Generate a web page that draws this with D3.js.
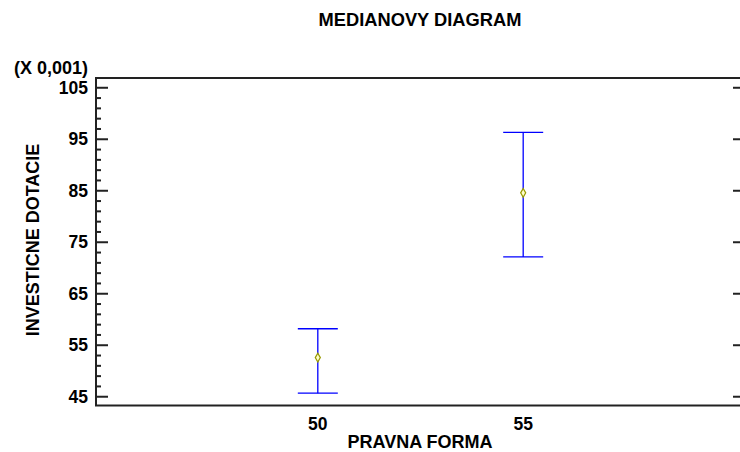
<!DOCTYPE html>
<html>
<head>
<meta charset="utf-8">
<script src="https://cdn.jsdelivr.net/npm/d3@7"></script>
<style>
  html, body { margin: 0; padding: 0; background: #fff; }
  svg { display: block; font-family: "Liberation Sans", Arial, sans-serif; font-weight: bold; }
</style>
</head>
<body>
<svg id="chart" width="740" height="452"></svg>
<script>
// Median plot: median with lower/upper interval per legal form
const categories = [50, 55];
const medians = [52.5, 84.5];
const lowerBounds = [45.6, 72.05];
const upperBounds = [58.1, 96.25];
const yMajorTicks = [45, 55, 65, 75, 85, 95, 105];
const yMinorTicks = [47, 49, 51, 53, 57, 59, 61, 63, 67, 69, 71, 73, 77, 79, 81, 83, 87, 89, 91, 93, 97, 99, 101, 103];

const svg = d3.select("#chart");
const plot = { left: 96, right: 745, top: 78, bottom: 405.5 };

const x = d3.scaleLinear().domain([44.6, 60.4]).range([plot.left, plot.right]);
const y = d3.scaleLinear().domain([43.2, 106.8]).range([plot.bottom, plot.top]);

const axisColor = "#222";

// frame
svg.append("rect")
  .attr("x", plot.left).attr("y", plot.top)
  .attr("width", plot.right - plot.left).attr("height", plot.bottom - plot.top)
  .attr("fill", "none").attr("stroke", axisColor).attr("stroke-width", 2);

// left axis: major and minor ticks pointing inward
const leftAxis = d3.axisRight(y).tickValues(yMajorTicks).tickSize(12).tickFormat("");
const gl = svg.append("g").attr("transform", `translate(${plot.left},0)`).call(leftAxis);
gl.select(".domain").remove();
gl.selectAll("line").attr("stroke", axisColor).attr("stroke-width", 2);

const leftMinor = d3.axisRight(y).tickValues(yMinorTicks).tickSize(5).tickFormat("");
const glm = svg.append("g").attr("transform", `translate(${plot.left},0)`).call(leftMinor);
glm.select(".domain").remove();
glm.selectAll("line").attr("stroke", axisColor).attr("stroke-width", 2);

// right axis ticks pointing inward
const rightAxis = d3.axisLeft(y).tickValues(yMajorTicks).tickSize(12).tickFormat("");
const gr = svg.append("g").attr("transform", `translate(${plot.right},0)`).call(rightAxis);
gr.select(".domain").remove();
gr.selectAll("line").attr("stroke", axisColor).attr("stroke-width", 2);

const rightMinor = d3.axisLeft(y).tickValues(yMinorTicks).tickSize(5).tickFormat("");
const grm = svg.append("g").attr("transform", `translate(${plot.right},0)`).call(rightMinor);
grm.select(".domain").remove();
grm.selectAll("line").attr("stroke", axisColor).attr("stroke-width", 2);

// y tick labels
svg.append("g").selectAll("text").data(yMajorTicks).join("text")
  .attr("x", plot.left - 8).attr("y", d => y(d)).attr("dy", "0.36em")
  .attr("text-anchor", "end").attr("font-size", 17.5).attr("fill", "#000")
  .text(d => d);

// x tick labels
svg.append("g").selectAll("text").data(categories).join("text")
  .attr("x", d => x(d)).attr("y", 430)
  .attr("text-anchor", "middle").attr("font-size", 17.5).attr("fill", "#000")
  .text(d => d);

// titles
svg.append("text").attr("x", 420).attr("y", 26).attr("text-anchor", "middle")
  .attr("font-size", 18.3).text("MEDIANOVY DIAGRAM");
svg.append("text").attr("x", 420).attr("y", 447.5).attr("text-anchor", "middle")
  .attr("font-size", 18).text("PRAVNA FORMA");
svg.append("text").attr("transform", "translate(39,240) rotate(-90)").attr("text-anchor", "middle")
  .attr("font-size", 18).text("INVESTICNE DOTACIE");
svg.append("text").attr("x", 88).attr("y", 74).attr("text-anchor", "end")
  .attr("font-size", 18).text("(X 0,001)");

// interval bars
const capHalf = 20;
const bars = svg.append("g").selectAll("g").data(categories).join("g");
bars.append("line")
  .attr("x1", d => x(d)).attr("x2", d => x(d))
  .attr("y1", (d, i) => y(upperBounds[i])).attr("y2", (d, i) => y(lowerBounds[i]))
  .attr("stroke", "#0000ff").attr("stroke-width", 1.3);
bars.append("line")
  .attr("x1", d => x(d) - capHalf).attr("x2", d => x(d) + capHalf)
  .attr("y1", (d, i) => y(upperBounds[i])).attr("y2", (d, i) => y(upperBounds[i]))
  .attr("stroke", "#0000ff").attr("stroke-width", 1.3);
bars.append("line")
  .attr("x1", d => x(d) - capHalf).attr("x2", d => x(d) + capHalf)
  .attr("y1", (d, i) => y(lowerBounds[i])).attr("y2", (d, i) => y(lowerBounds[i]))
  .attr("stroke", "#0000ff").attr("stroke-width", 1.3);

// median markers
const diamond = d3.symbol().type(d3.symbolDiamond).size(22);
bars.append("path")
  .attr("transform", (d, i) => `translate(${x(d)},${y(medians[i])})`)
  .attr("d", diamond)
  .attr("fill", "#ffffcc").attr("stroke", "#999900").attr("stroke-width", 1.2);
</script>
</body>
</html>
